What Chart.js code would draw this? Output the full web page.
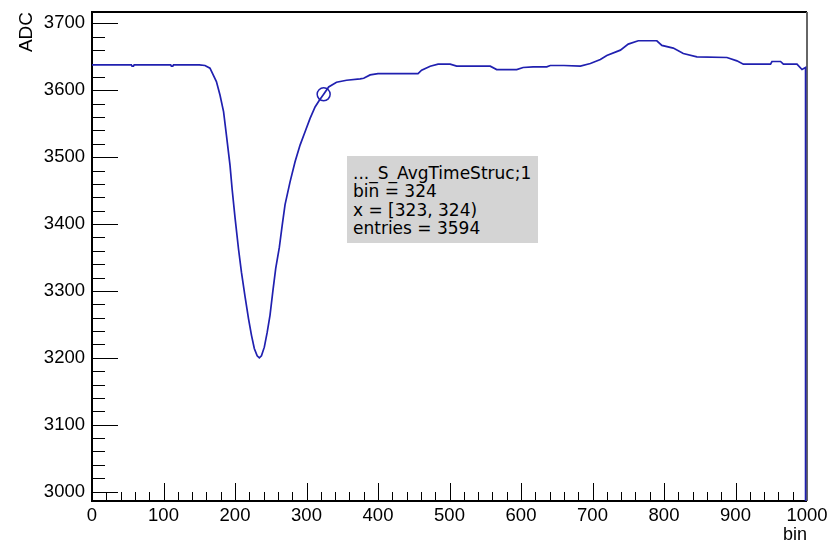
<!DOCTYPE html>
<html>
<head>
<meta charset="utf-8">
<script src="https://cdn.jsdelivr.net/npm/chart.js@4.4.0/dist/chart.umd.min.js"></script>
<style>
  html, body { margin: 0; padding: 0; background: #fff; }
  #wrap { position: relative; width: 836px; height: 540px; }
  #info {
    position: absolute; left: 347px; top: 156px; width: 185px; height: 79px;
    padding: 8px 0 0 6px; background: #d4d4d4; color: #000;
    font: 17px "DejaVu Sans", sans-serif; line-height: 18.3px; white-space: nowrap;
  }
</style>
</head>
<body>
<div id="wrap">
  <canvas id="grafico" width="836" height="540"></canvas>
  <div id="info">..._S_AvgTimeStruc;1<br>bin = 324<br>x = [323, 324)<br>entries = 3594</div>
</div>
<script>
// histogram: bin -> ADC
const bins = [0, 55, 56, 58, 59, 110, 111, 113, 114, 150, 158, 165, 174, 179, 184, 188, 193, 196, 200, 205,
  209, 214, 219, 223, 227, 231, 234, 237, 241, 245, 249, 253, 257, 262, 266, 270, 277, 284, 291, 298, 305, 312,
  318, 324, 331, 342, 356, 375, 380, 389, 400, 456, 461, 473, 484, 501, 510, 557, 566, 594, 603, 617,
  636, 641, 660, 683, 697, 711, 720, 739, 750, 764, 790, 797, 813, 827, 846, 888, 902, 911, 949, 951,
  963, 967, 986, 993, 998, 998]
const adc = [3638, 3638, 3636, 3636, 3638, 3638, 3636, 3636, 3638, 3638, 3637, 3633, 3613, 3593, 3568, 3533, 3488, 3452, 3410, 3362,
  3328, 3292, 3258, 3234, 3214, 3203, 3200, 3203, 3216, 3238, 3264, 3300, 3334, 3365, 3398, 3429, 3463, 3493, 3518, 3538, 3558, 3575,
  3585, 3594, 3605, 3612, 3615, 3617, 3618, 3623, 3625, 3625, 3630, 3636, 3639, 3639, 3636, 3636, 3631, 3631, 3634, 3635,
  3635, 3637, 3637, 3636, 3640, 3646, 3652, 3660, 3669, 3674, 3674, 3667, 3663, 3655, 3650, 3649, 3644, 3639, 3639, 3643,
  3643, 3639, 3639, 3631, 3634, 0]

// picked bin (the circle and the stat box)
const pickedBin = [324]
const pickedAdc = [3594]

const xTicks = [0, 100, 200, 300, 400, 500, 600, 700, 800, 900, 1000]
const yTicks = [3000, 3100, 3200, 3300, 3400, 3500, 3600, 3700]

const azul = '#2020b0'
const fonte = '"Liberation Sans", Arial, sans-serif'

// ROOT style frame: ticks pointing inwards, minor ticks every 20
const molduraRoot = {
  id: 'molduraRoot',
  beforeDatasetsDraw(chart) {
    const { ctx, chartArea: a, scales: { x, y } } = chart
    ctx.save()
    ctx.strokeStyle = '#000'
    ctx.lineWidth = 1
    ctx.beginPath()
    for (let v = Math.ceil(y.min / 20) * 20; v <= y.max; v += 20) {
      const py = Math.round(y.getPixelForValue(v)) + 0.5
      const len = v % 100 === 0 ? 26 : 13
      ctx.moveTo(a.left, py)
      ctx.lineTo(a.left + len, py)
    }
    for (let v = Math.ceil(x.min / 20) * 20; v <= x.max; v += 20) {
      const px = Math.round(x.getPixelForValue(v)) + 0.5
      const len = v % 100 === 0 ? 18 : 9
      ctx.moveTo(px, a.bottom)
      ctx.lineTo(px, a.bottom - len)
    }
    ctx.stroke()

    ctx.lineWidth = 2
    ctx.beginPath()
    ctx.moveTo(a.right, a.top)
    ctx.lineTo(a.left, a.top)
    ctx.lineTo(a.left, a.bottom)
    ctx.lineTo(a.right, a.bottom)
    ctx.stroke()
    ctx.strokeStyle = '#666'
    ctx.beginPath()
    ctx.moveTo(a.right, a.top)
    ctx.lineTo(a.right, a.bottom)
    ctx.stroke()
    ctx.restore()
  }
}

new Chart(document.getElementById('grafico'), {
  type: 'line',
  data: {
    datasets: [{
      data: bins.map((b, i) => ({ x: b, y: adc[i] })),
      borderColor: azul,
      borderWidth: 1.7,
      pointRadius: 0,
      tension: 0,
      fill: false
    }, {
      data: pickedBin.map((b, i) => ({ x: b, y: pickedAdc[i] })),
      showLine: false,
      pointRadius: 6.5,
      pointBorderWidth: 1.5,
      pointBorderColor: azul,
      pointBackgroundColor: 'rgba(0,0,0,0)'
    }]
  },
  options: {
    responsive: false,
    animation: false,
    devicePixelRatio: 1,
    layout: { padding: { top: 12, right: 29, left: 0, bottom: 0 } },
    plugins: { legend: { display: false }, tooltip: { enabled: false } },
    scales: {
      x: {
        type: 'linear',
        min: 0,
        max: 1000,
        afterFit: s => { s.height = 39; s.paddingLeft = 0; s.paddingRight = 0 },
        afterBuildTicks: s => { s.ticks = xTicks.map(v => ({ value: v })) },
        grid: { display: false, drawTicks: false },
        border: { display: false },
        ticks: { color: '#000', padding: 4, maxRotation: 0, autoSkip: false, callback: v => String(v), font: { family: fonte, size: 18.5 } },
        title: { display: true, text: 'bin', align: 'end', color: '#000', padding: { top: 0, bottom: -4 }, font: { family: fonte, size: 18, lineHeight: 1 } }
      },
      y: {
        type: 'linear',
        min: 2986,
        max: 3717,
        afterFit: s => { s.width = 92; s.paddingTop = 0; s.paddingBottom = 0 },
        afterBuildTicks: s => { s.ticks = yTicks.map(v => ({ value: v })) },
        grid: { display: false, drawTicks: false },
        border: { display: false },
        ticks: { color: '#000', padding: 7, callback: v => String(v), font: { family: fonte, size: 18.5 } },
        title: { display: true, text: 'ADC', align: 'end', color: '#000', padding: { top: 16.8, bottom: 0 }, font: { family: fonte, size: 19, lineHeight: 1 } }
      }
    }
  },
  plugins: [molduraRoot]
})
</script>
</body>
</html>
